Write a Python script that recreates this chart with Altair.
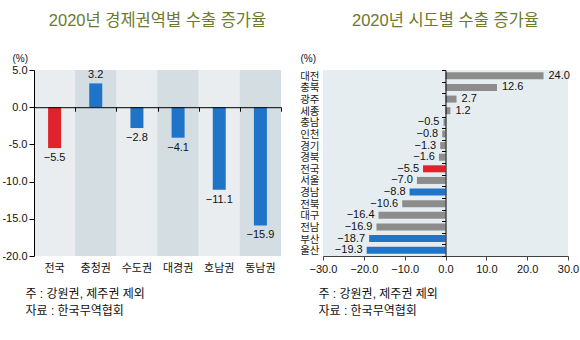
import altair as alt
import pandas as pd

# ---------------- data ----------------
left_cats = ["전국", "충청권", "수도권", "대경권", "호남권", "동남권"]
left_vals = [-5.5, 3.2, -2.8, -4.1, -11.1, -15.9]
left_colors = ["#e0222a", "#1f74c8", "#1f74c8", "#1f74c8", "#1f74c8", "#1f74c8"]
left_bands = ["#e9edf0", "#d3dde2", "#e9edf0", "#d3dde2", "#e9edf0", "#d3dde2"]

right_cats = ["대전", "충북", "광주", "세종", "충남", "인천", "경기", "경북",
              "전국", "서울", "경남", "전북", "대구", "전남", "부산", "울산"]
right_vals = [24.0, 12.6, 2.7, 1.2, -0.5, -0.8, -1.3, -1.6,
              -5.5, -7.0, -8.8, -10.6, -16.4, -16.9, -18.7, -19.3]
right_colors = ["#8c8c8c"] * 8 + ["#e0222a", "#8c8c8c", "#1f74c8", "#8c8c8c",
                                   "#8c8c8c", "#8c8c8c", "#1f74c8", "#1f74c8"]

left_title = "2020년 경제권역별 수출 증가율"
right_title = "2020년 시도별 수출 증가율"
notes = ["주 : 강원권, 제주권 제외", "자료 : 한국무역협회"]
unit = "(%)"

FONT = "Liberation Sans, Noto Sans CJK KR, sans-serif"
TITLE_COLOR = "#6d7a2c"

dl = pd.DataFrame({"cat": left_cats, "val": left_vals, "col": left_colors, "band": left_bands})
dr = pd.DataFrame({"cat": right_cats, "val": right_vals, "col": right_colors})

LW, LH = 247, 186
RW, RH = 245, 186

# ---------------- left chart ----------------
lxs = alt.Scale(domain=left_cats, paddingInner=0, paddingOuter=0)
lys = alt.Scale(domain=[-20, 5], nice=False, zero=False)
ly_axis = alt.Axis(
    values=[5, 0, -5, -10, -15, -20], labelOverlap=False, labelFlush=False,
    labelExpr="replace(format(datum.value, '.1f'), '\u2212', '-')",
    grid=False, domainColor="#000", tickColor="#000", tickSize=5,
    labelPadding=2, labelFontSize=11, labelColor="#111", labelFont=FONT,
    title=unit, titleAngle=0, titleAlign="left", titleBaseline="alphabetic",
    titleX=-22, titleY=-9, titleFontSize=10, titleFontWeight="normal",
    titleFont=FONT, titleColor="#111", zindex=1,
)
ly = alt.Y("val:Q", scale=lys, axis=ly_axis)

bg = alt.Chart(dl).mark_rect().encode(
    x=alt.X("cat:N", sort=left_cats, scale=lxs, axis=alt.Axis(
        orient="bottom", domain=False, ticks=False, labelAngle=0, labelPadding=6,
        labelFontSize=11, labelFont=FONT, labelColor="#111",
        title=notes, titleAnchor="start", titleAlign="left", titleBaseline="alphabetic",
        titleX=-9, titleY=41, titleFontSize=12, titleFontWeight="normal",
        titleFont=FONT, titleColor="#111", titleLineHeight=17,
    )),
    y=alt.Y(datum=5, type="quantitative", scale=lys, axis=ly_axis),
    y2=alt.datum(-20),
    color=alt.Color("band:N", scale=None),
)

lbars = alt.Chart(dl).mark_bar(size=13).encode(
    x=alt.X("cat:N", sort=left_cats, scale=lxs, axis=alt.Axis(
        orient="bottom", offset=-LH * 20 / 25, labels=False, title=None,
        domainColor="#000", tickColor="#000", tickSize=4, tickBand="extent", zindex=1,
    )),
    y=ly,
    y2=alt.datum(0),
    color=alt.Color("col:N", scale=None),
)

ltext_pos = alt.Chart(dl).transform_filter("datum.val >= 0").mark_text(
    baseline="bottom", dy=-3, fontSize=11, font=FONT, color="#111"
).encode(
    x=alt.X("cat:N", sort=left_cats, scale=lxs, axis=None),
    y=ly,
    text=alt.Text("val:Q", format=".1f"),
)
ltext_neg = alt.Chart(dl).transform_filter("datum.val < 0").mark_text(
    baseline="top", dy=4, fontSize=11, font=FONT, color="#111"
).encode(
    x=alt.X("cat:N", sort=left_cats, scale=lxs, axis=None),
    y=ly,
    text=alt.Text("val:Q", format=".1f"),
)

left = alt.layer(bg, lbars, ltext_pos, ltext_neg).resolve_axis(x="independent").properties(
    width=LW, height=LH,
    title=alt.TitleParams(text=left_title, frame="group", anchor="middle", baseline="bottom",
                          offset=8, fontSize=16.5, fontWeight="normal", font=FONT, color=TITLE_COLOR),
)

# ---------------- right chart ----------------
rys = alt.Scale(domain=right_cats, paddingInner=0, paddingOuter=0)
rxs = alt.Scale(domain=[-30, 30], nice=False)
rx_axis = alt.Axis(
    values=[-30, -20, -10, 0, 10, 20, 30], format=".1f", grid=False,
    labelOverlap=False, labelFlush=False,
    domainColor="#444", tickColor="#444", tickSize=4, labelPadding=3,
    labelFontSize=11, labelFont=FONT, labelColor="#111",
    title=notes, titleAnchor="start", titleAlign="left", titleBaseline="alphabetic",
    titleX=-5, titleY=41, titleFontSize=12, titleFontWeight="normal",
    titleFont=FONT, titleColor="#111", titleLineHeight=17, zindex=1,
)
rx = alt.X("val:Q", scale=rxs, axis=rx_axis)

rbars = alt.Chart(dr).mark_bar(size=7).encode(
    y=alt.Y("cat:N", sort=right_cats, scale=rys, axis=alt.Axis(
        orient="left", domain=False, ticks=False, labelPadding=4, labelOffset=1,
        labelFontSize=10.5, labelFont=FONT, labelColor="#222", labelOverlap=False,
        title=unit, titleAngle=0, titleAlign="left", titleBaseline="alphabetic",
        titleX=-23, titleY=-9, titleFontSize=10, titleFontWeight="normal",
        titleFont=FONT, titleColor="#111",
    )),
    x=rx,
    x2=alt.datum(0),
    color=alt.Color("col:N", scale=None),
)

rtext_pos = alt.Chart(dr).transform_filter("datum.val >= 0").mark_text(
    align="left", dx=5, fontSize=11, font=FONT, color="#111"
).encode(
    y=alt.Y("cat:N", sort=right_cats, scale=rys, axis=alt.Axis(
        orient="left", offset=-RW / 2, labels=False, title=None,
        domainColor="#000", tickColor="#000", tickSize=4, tickBand="extent", zindex=1,
    )),
    x=rx,
    text=alt.Text("val:Q", format=".1f"),
)
rtext_neg = alt.Chart(dr).transform_filter("datum.val < 0").mark_text(
    align="right", dx=-4, fontSize=11, font=FONT, color="#111"
).encode(
    y=alt.Y("cat:N", sort=right_cats, scale=rys, axis=None),
    x=rx,
    text=alt.Text("val:Q", format=".1f"),
)

right = alt.layer(rbars, rtext_pos, rtext_neg).resolve_axis(y="independent").properties(
    width=RW, height=RH,
    title=alt.TitleParams(text=right_title, frame="group", anchor="middle", baseline="bottom",
                          offset=8, fontSize=16.5, fontWeight="normal", font=FONT, color=TITLE_COLOR),
)

chart = alt.hconcat(left, right, spacing=42, bounds="flush").properties(
    autosize=alt.AutoSizeParams(type="none"),
    padding={"left": 34, "top": 70, "right": 546, "bottom": 270},
    background="white",
).configure_view(fill="#e6edf1", stroke=None)

chart.save("out.html", embed_options={"renderer": "svg", "actions": False})
